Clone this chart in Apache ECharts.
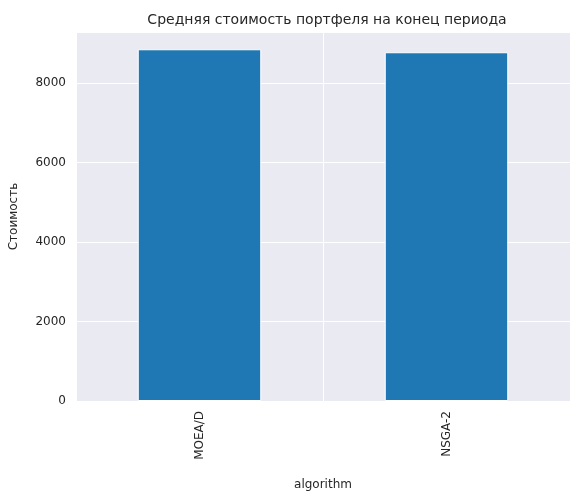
<!DOCTYPE html>
<html><head><meta charset="utf-8">
<script src="https://cdn.jsdelivr.net/npm/echarts@6/dist/echarts.min.js"></script>
<style>html,body{margin:0;padding:0;background:#fff}#c{width:580px;height:497px}</style>
</head><body><div id="c"></div>
<script>
const categories = ['MOEA/D', 'NSGA-2'];
const values = [8855, 8780];
const yTicks = [0, 2000, 4000, 6000, 8000];

const chart = echarts.init(document.getElementById('c'), null, {renderer: 'canvas'});
const font = 'DejaVu Sans';
chart.setOption({
  animation: false,
  backgroundColor: '#fff',
  title: {text: 'Средняя стоимость портфеля на конец периода', left: 322, top: 8, textAlign: 'center',
    textStyle: {fontFamily: font, fontSize: 14, fontWeight: 'normal', color: '#262626'}},
  grid: {left: 75, right: 10, top: 32, bottom: 96, backgroundColor: '#EAEAF2', show: true, borderWidth: 0},
  xAxis: {type: 'category', data: categories, boundaryGap: true,
    name: 'algorithm', nameLocation: 'middle', nameGap: 78,
    nameTextStyle: {fontFamily: font, fontSize: 12, color: '#262626'},
    axisLine: {show: false}, axisTick: {show: false},
    splitLine: {show: true, interval: 0, lineStyle: {color: '#fff', width: 1}},
    axisLabel: {rotate: 90, fontFamily: font, fontSize: 12, color: '#262626', margin: 10, interval: 0}},
  yAxis: {type: 'value', min: 0, max: 9290, interval: 2000,
    name: 'Стоимость', nameLocation: 'middle', nameGap: 56,
    nameTextStyle: {fontFamily: font, fontSize: 12, color: '#262626'},
    axisLine: {show: false}, axisTick: {show: false},
    splitLine: {lineStyle: {color: '#fff', width: 1}},
    axisLabel: {fontFamily: font, fontSize: 12, color: '#262626', margin: 10,
      formatter: v => yTicks.includes(v) ? String(v) : ''}},
  series: [{type: 'bar', data: values, barWidth: '50%',
    itemStyle: {color: '#1F77B4', borderColor: '#fff', borderWidth: 1}}]
});
// vertical gridlines at category centers
chart.setOption({xAxis: {boundaryGap: true}});
</script></body></html>
